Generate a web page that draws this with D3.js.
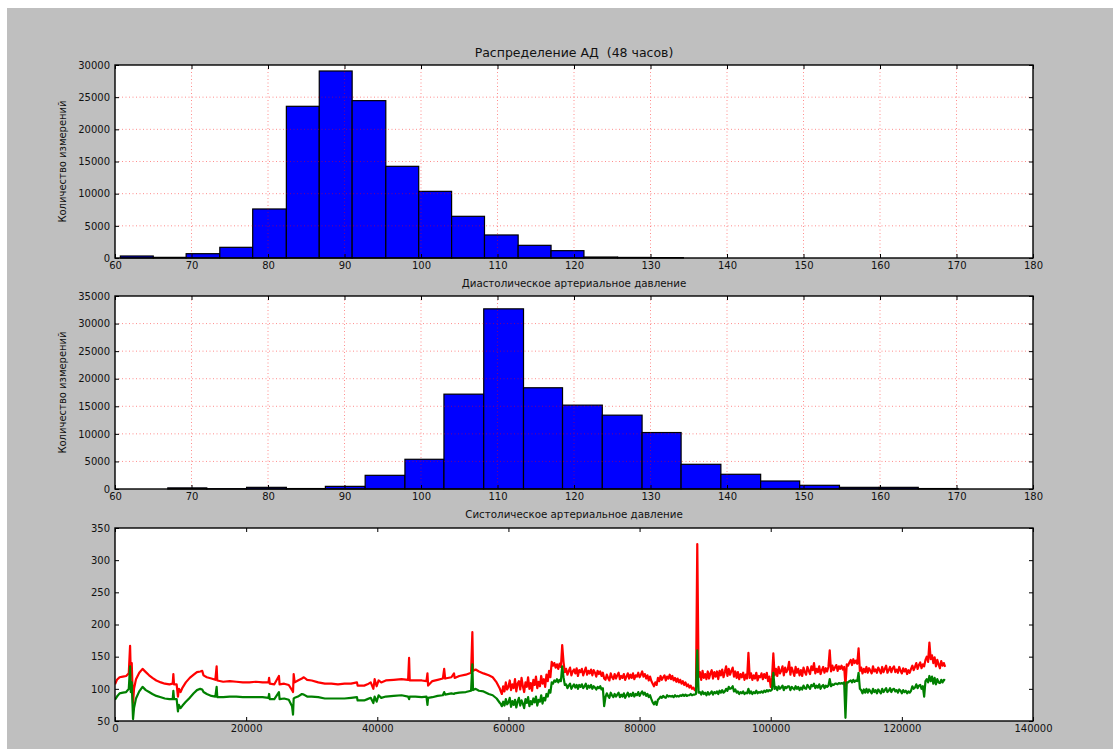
<!DOCTYPE html>
<html>
<head>
<meta charset="utf-8">
<script src="https://cdn.jsdelivr.net/npm/d3@7"></script>
<style>
  body { margin: 0; background: #ffffff; }
  text { font-family: "DejaVu Sans", sans-serif; fill: #111; }
</style>
</head>
<body>
<svg id="chart" width="1113" height="749"></svg>
<script>
// ---- Histogram of diastolic pressure (bin edges + counts) ----
const diaBinEdges = [60.7, 65.0, 69.3, 73.7, 78.0, 82.4, 86.7, 91.0, 95.4, 99.7,
                     104.0, 108.3, 112.7, 117.0, 121.3, 125.7, 130.0, 134.3];
const diaCounts = [310, 100, 670, 1660, 7620, 23580, 29070, 24460, 14250, 10360,
                   6480, 3580, 1970, 1140, 150, 90, 60];

// ---- Histogram of systolic pressure ----
const sysBinEdges = [66.9, 72.0, 77.2, 82.4, 87.5, 92.7, 97.9, 103.0, 108.2, 113.4,
                     118.5, 123.7, 128.9, 134.0, 139.2, 144.4, 149.5, 154.7, 159.9, 165.0, 170.2];
const sysCounts = [200, 50, 300, 80, 480, 2480, 5390, 17200, 32670, 18360,
                   15210, 13390, 10240, 4480, 2670, 1450, 670, 300, 300, 80];

// ---- Tick values ----
const pressureTicks = [60, 70, 80, 90, 100, 110, 120, 130, 140, 150, 160, 170, 180];
const diaCountTicks = [0, 5000, 10000, 15000, 20000, 25000, 30000];
const sysCountTicks = [0, 5000, 10000, 15000, 20000, 25000, 30000, 35000];
const sampleTicks = [0, 20000, 40000, 60000, 80000, 100000, 120000, 140000];
const traceTicks = [50, 100, 150, 200, 250, 300, 350];

// ---- 48-hour trace, part 1: calm stretch, irregularly sampled (sample no.) ----
const calmIdx = [
  0, 300, 700, 1200, 1700, 2100, 2300, 2400, 2550, 2750, 2900, 3200, 3700, 4200, 4700, 5200, 5700, 6300, 7000, 7600,
  8300, 8800, 8900, 9000, 9400, 9600, 9750, 10000, 10300, 10800, 11400, 12000, 12500, 13000, 13300, 13500, 14000, 14700, 15300, 15500,
  15600, 16500, 17500, 18500, 19500, 20500, 21500, 22500, 23400, 23500, 23600, 24300, 25000, 25100, 25800, 26500, 27000, 27150, 27250, 27400,
  27900, 28500, 28800, 29300, 30000, 31000, 32000, 33000, 34000, 35000, 36000, 36900, 37000, 38000, 38500, 39000, 39400, 39600, 39900, 40200,
  40600, 41300, 42500, 43700, 44700, 44850, 44950, 45800, 46800, 47500, 47650, 47750, 48400, 49200, 50000, 50200, 50350, 51300, 51700, 51800,
  52500, 53500, 54300, 54500, 54600, 55000, 55500, 56200, 57000, 57600, 58200, 58700
];
const calmSys = [
  107, 114, 118, 119, 120, 124, 167, 125, 140, 78, 100, 115, 125, 131, 126, 121, 117, 113, 110, 108,
  107, 108, 123, 107, 107, 88, 100, 95, 102, 110, 117, 122, 126, 127, 128, 121, 118, 116, 114, 135,
  113, 111, 112, 111, 110, 110, 111, 110, 110, 117, 108, 107, 120, 107, 108, 106, 98, 95, 123, 110,
  113, 116, 118, 114, 113, 110, 108, 108, 107, 108, 108, 110, 105, 105, 107, 110, 100, 115, 104, 113,
  110, 113, 114, 115, 114, 148, 113, 113, 113, 112, 124, 105, 112, 114, 116, 131, 116, 118, 124, 117,
  120, 122, 125, 188, 128, 130, 127, 124, 121, 118, 110, 100
];
const calmDia = [
  83, 88, 93, 94, 95, 100, 135, 95, 110, 53, 70, 85, 96, 103, 98, 95, 92, 89, 87, 85,
  84, 84, 97, 84, 84, 65, 75, 70, 74, 80, 86, 93, 98, 100, 99, 95, 92, 89, 88, 103,
  87, 87, 88, 88, 87, 87, 87, 87, 86, 92, 84, 84, 95, 84, 85, 83, 73, 60, 85, 86,
  88, 92, 91, 88, 88, 87, 85, 85, 85, 85, 86, 87, 82, 82, 84, 86, 78, 88, 80, 90,
  86, 88, 89, 90, 88, 84, 88, 88, 87, 88, 75, 86, 87, 89, 90, 95, 91, 93, 92, 93,
  94, 95, 97, 138, 98, 100, 97, 96, 92, 90, 85, 78
];

// ---- part 2: noisy stretch, one reading every 200 samples from sample 58800 ----
const denseStart = 58800, denseStep = 200;
const denseSys = [
  97, 92, 104, 96, 110, 99, 103, 113, 98, 107,
  101, 115, 96, 108, 112, 99, 117, 104, 95, 110,
  103, 118, 100, 109, 97, 114, 106, 119, 101, 111,
  104, 120, 108, 115, 103, 122, 112, 128, 118, 142,
  136, 140, 133, 138, 131, 139, 134, 168, 142, 126,
  131, 122, 128, 133, 121, 127, 130, 124, 132, 120,
  129, 126, 131, 121, 127, 133, 122, 128, 124, 130,
  121, 129, 125, 119, 128, 123, 127, 120, 125, 116,
  114, 122, 117, 113, 124, 118, 115, 123, 116, 121,
  125, 115, 120, 117, 123, 114, 119, 124, 116, 122,
  117, 124, 115, 121, 119, 125, 118, 122, 127, 119,
  123, 116, 121, 113, 119, 112, 108, 104, 110, 106,
  117, 112, 120, 114, 118, 121, 113, 119, 116, 122,
  115, 120, 113, 117, 111, 116, 110, 114, 108, 112,
  106, 110, 104, 107, 102, 105, 100, 102, 98, 97,
  325, 118, 126, 114, 128, 117, 123, 115, 127, 116,
  124, 129, 116, 126, 119, 127, 115, 128, 121, 130,
  118, 126, 135, 120, 131, 122, 128, 133, 119, 127,
  117, 126, 115, 123, 118, 125, 114, 122, 116, 156,
  117, 124, 114, 121, 116, 125, 113, 120, 118, 124,
  115, 123, 117, 125, 112, 119, 103, 117, 155, 121,
  131, 120, 134, 124, 128, 135, 121, 133, 126, 130,
  142, 122, 133, 127, 120, 134, 125, 131, 121, 129,
  120, 133, 126, 122, 134, 128, 123, 135, 129, 140,
  124, 131, 126, 135, 123, 129, 134, 125, 132, 127,
  134, 160, 127, 136, 129, 133, 137, 128, 135, 131,
  136, 130, 134, 105, 138, 136, 141, 145, 137, 146,
  140, 144, 139, 163, 128, 133, 124, 131, 126, 134,
  125, 132, 128, 124, 135, 127, 130, 125, 133, 129,
  124, 134, 126, 131, 136, 125, 129, 134, 126, 132,
  135, 126, 130, 125, 134, 128, 124, 132, 127, 131,
  123, 129, 125, 131, 136, 129, 134, 140, 131, 137,
  141, 132, 138, 135, 145, 150, 142, 172, 146, 152,
  140, 149, 135, 145, 138, 132, 143, 136, 140, 134
];
const denseDia = [
  77, 73, 80, 74, 84, 76, 79, 86, 72, 81,
  75, 83, 71, 80, 86, 74, 82, 77, 70, 84,
  78, 87, 73, 81, 76, 85, 79, 88, 74, 83,
  80, 90, 77, 86, 82, 92, 88, 98, 94, 110,
  108, 113, 111, 115, 110, 114, 112, 135, 118, 106,
  107, 101, 105, 108, 100, 104, 107, 102, 106, 100,
  106, 103, 107, 101, 104, 108, 100, 105, 102, 106,
  100, 104, 102, 99, 103, 101, 104, 99, 101, 73,
  87, 93, 89, 86, 94, 90, 87, 92, 88, 91,
  94, 87, 91, 88, 93, 86, 90, 94, 88, 92,
  89, 94, 88, 92, 90, 95, 89, 93, 96, 91,
  94, 89, 92, 87, 90, 84, 79, 76, 80, 75,
  83, 85, 88, 86, 89, 87, 86, 90, 88, 89,
  88, 89, 87, 90, 88, 89, 88, 90, 89, 91,
  89, 91, 89, 90, 90, 92, 90, 91, 91, 92,
  160, 94, 95, 91, 96, 92, 94, 90, 95, 91,
  93, 96, 91, 95, 93, 96, 92, 97, 94, 98,
  94, 96, 100, 97, 103, 100, 101, 104, 96, 99,
  94, 96, 92, 95, 93, 96, 92, 94, 93, 100,
  93, 96, 92, 95, 93, 97, 93, 95, 94, 96,
  94, 97, 95, 98, 96, 98, 97, 99, 125, 100,
  103, 98, 104, 100, 102, 105, 98, 103, 101, 104,
  104, 98, 103, 101, 99, 104, 100, 103, 98, 102,
  99, 105, 101, 100, 106, 103, 100, 106, 104, 108,
  101, 105, 102, 107, 100, 104, 106, 101, 105, 103,
  105, 115, 104, 107, 106, 108, 108, 107, 109, 108,
  109, 108, 110, 55, 110, 110, 112, 113, 110, 114,
  111, 113, 112, 125, 100, 98, 93, 99, 94, 100,
  94, 99, 96, 93, 100, 95, 98, 93, 99, 96,
  93, 100, 95, 98, 101, 95, 97, 101, 95, 99,
  100, 96, 98, 94, 99, 97, 93, 98, 95, 97,
  93, 96, 94, 97, 104, 100, 102, 107, 101, 105,
  106, 100, 104, 88, 112, 115, 110, 120, 112, 119,
  108, 117, 107, 115, 110, 109, 114, 110, 114, 113
];

// join both stretches into one trace
const denseIdx = denseSys.map((_, i) => denseStart + i * denseStep);
const sampleIdx = calmIdx.concat(denseIdx);
const systolic = calmSys.concat(denseSys);
const diastolic = calmDia.concat(denseDia);

// ---- Layout ----
const W = 1113, H = 749;
const L = 115, R = 1033, PH = 193;
const tops = [65, 296, 528];

const svg = d3.select('#chart');

// figure background (white edge strip + grey canvas)
svg.append('rect').attr('width', W).attr('height', H).attr('fill', '#ffffff');
svg.append('rect').attr('x', 7).attr('y', 8).attr('width', W - 7).attr('height', H - 8).attr('fill', '#bfbfbf');

function styleAxis(g, showLabels) {
  g.select('.domain').remove();
  g.selectAll('.tick line').attr('stroke', '#000').attr('stroke-width', 1);
  g.selectAll('.tick text').attr('font-size', 10).attr('fill', '#111');
  if (!showLabels) g.selectAll('.tick text').remove();
}

function drawFrame(top, x, y, xTicks, yTicks, xFmt, yFmt) {
  const bottom = top + PH;
  svg.append('g').attr('transform', `translate(0,${bottom})`)
    .call(d3.axisBottom(x).tickValues(xTicks).tickFormat(xFmt).tickSize(-4).tickPadding(4))
    .call(g => styleAxis(g, true));
  svg.append('g').attr('transform', `translate(0,${top})`)
    .call(d3.axisTop(x).tickValues(xTicks).tickSize(-4))
    .call(g => styleAxis(g, false));
  svg.append('g').attr('transform', `translate(${L},0)`)
    .call(d3.axisLeft(y).tickValues(yTicks).tickFormat(yFmt).tickSize(-4).tickPadding(5))
    .call(g => styleAxis(g, true));
  svg.append('g').attr('transform', `translate(${R},0)`)
    .call(d3.axisRight(y).tickValues(yTicks).tickSize(-4))
    .call(g => styleAxis(g, false));
  svg.append('rect')
    .attr('x', L).attr('y', top).attr('width', R - L).attr('height', PH)
    .attr('fill', 'none').attr('stroke', '#000').attr('stroke-width', 1.4);
}

function histogramPanel(idx, edges, counts, countTicks, xLabel) {
  const top = tops[idx], bottom = top + PH;
  const x = d3.scaleLinear().domain([60, 180]).range([L, R]);
  const y = d3.scaleLinear().domain([0, d3.max(countTicks)]).range([bottom, top]);

  svg.append('rect').attr('x', L).attr('y', top).attr('width', R - L).attr('height', PH).attr('fill', '#ffffff');

  const bins = counts.map((c, i) => ({ x0: edges[i], x1: edges[i + 1], c }));
  svg.append('g').selectAll('rect').data(bins).join('rect')
    .attr('x', d => x(d.x0))
    .attr('y', d => y(d.c))
    .attr('width', d => x(d.x1) - x(d.x0))
    .attr('height', d => y(0) - y(d.c))
    .attr('fill', '#0000ff')
    .attr('stroke', '#000')
    .attr('stroke-width', 1.2);

  // dotted red grid
  const grid = svg.append('g').attr('stroke', '#ff0000').attr('stroke-opacity', 0.45)
    .attr('stroke-width', 1).attr('stroke-dasharray', '1,2.5');
  grid.selectAll('line.v').data(pressureTicks.slice(1, -1)).join('line').attr('class', 'v')
    .attr('x1', d => x(d)).attr('x2', d => x(d)).attr('y1', top).attr('y2', bottom);
  grid.selectAll('line.h').data(countTicks.slice(1, -1)).join('line').attr('class', 'h')
    .attr('y1', d => y(d)).attr('y2', d => y(d)).attr('x1', L).attr('x2', R);

  drawFrame(top, x, y, pressureTicks, countTicks, d3.format('d'), d3.format('d'));

  svg.append('text').attr('x', (L + R) / 2).attr('y', bottom + 29)
    .attr('text-anchor', 'middle').attr('font-size', 10.3).text(xLabel);
  svg.append('text')
    .attr('transform', `translate(${L - 49},${(top + bottom) / 2}) rotate(-90)`)
    .attr('text-anchor', 'middle').attr('font-size', 10).text('Количество измерений');
}

// title
svg.append('text').attr('x', (L + R) / 2).attr('y', tops[0] - 8)
  .attr('text-anchor', 'middle').attr('font-size', 12.5).style('white-space', 'pre')
  .text('Распределение АД  (48 часов)');

histogramPanel(0, diaBinEdges, diaCounts, diaCountTicks, 'Диастолическое артериальное давление');
histogramPanel(1, sysBinEdges, sysCounts, sysCountTicks, 'Систолическое артериальное давление');

// ---- Trace panel ----
(function tracePanel() {
  const top = tops[2], bottom = top + PH;
  const x = d3.scaleLinear().domain([0, 140000]).range([L, R]);
  const y = d3.scaleLinear().domain([50, 350]).range([bottom, top]);

  svg.append('rect').attr('x', L).attr('y', top).attr('width', R - L).attr('height', PH).attr('fill', '#ffffff');
  svg.append('clipPath').attr('id', 'traceClip')
    .append('rect').attr('x', L).attr('y', top).attr('width', R - L).attr('height', PH);

  const line = vals => d3.line()
    .x((d, i) => x(sampleIdx[i]))
    .y(d => y(d))(vals);

  const g = svg.append('g').attr('clip-path', 'url(#traceClip)');
  g.append('path').attr('d', line(systolic)).attr('fill', 'none')
    .attr('stroke', '#ff0000').attr('stroke-width', 2.2).attr('stroke-linejoin', 'round');
  g.append('path').attr('d', line(diastolic)).attr('fill', 'none')
    .attr('stroke', '#008000').attr('stroke-width', 2.2).attr('stroke-linejoin', 'round');

  drawFrame(top, x, y, sampleTicks, traceTicks, d3.format('d'), d3.format('d'));
})();
</script>
</body>
</html>
